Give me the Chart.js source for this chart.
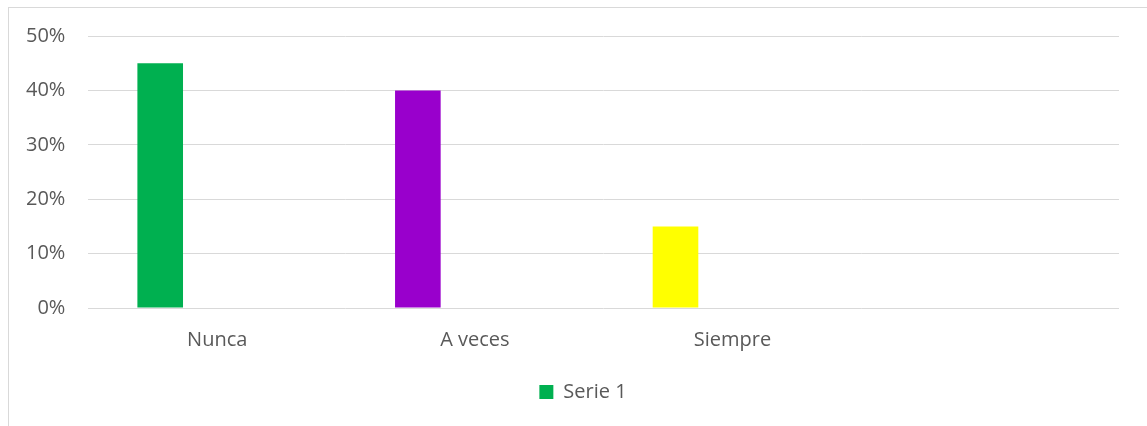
<!DOCTYPE html>
<html>
<head>
<meta charset="utf-8">
<script src="https://cdn.jsdelivr.net/npm/chart.js@4"></script>
<style>
	body { margin: 0; background: #ffffff; overflow: hidden; }
	#chart_box { position: relative; width: 1147px; height: 426px; }
	#chart_frame { position: absolute; left: 8px; top: 7px; width: 1200px; height: 500px; border: 1px solid #d9d9d9; pointer-events: none; }
</style>
</head>
<body>
<div id="chart_box">
	<canvas id="survey_chart" width="1147" height="426"></canvas>
	<div id="chart_frame"></div>
</div>
<script>
var category_labels = ['Nunca', 'A veces', 'Siempre', ''];
var serie1_values = [0.45, 0.40, 0.15, null];
var serie2_values = [null, null, null, null];
var serie3_values = [null, null, null, null];
var serie1_colors = ['#00b050', '#9900cc', '#ffff00', '#00b050'];
var y_ticks = [0, 0.1, 0.2, 0.3, 0.4, 0.5];

var text_color = '#595959';
var grid_color = '#d9d9d9';

Chart.defaults.font.family = "'Open Sans', sans-serif";
Chart.defaults.font.size = 20;
Chart.defaults.color = text_color;

//legend sits centred on the whole frame, not on the padded layout
var legend_shift = {
	id: 'legend_shift',
	afterLayout: function(chart) {
		if (chart.legend) {
			chart.legend.left += 22;
			chart.legend.right += 22;
		}
	}
};

var ctx = document.getElementById('survey_chart').getContext('2d');
var survey_chart = new Chart(ctx, {
	type: 'bar',
	data: {
		labels: category_labels,
		datasets: [
			{
				label: 'Serie 1',
				data: serie1_values,
				backgroundColor: function(c) {
					return c.type === 'data' ? serie1_colors[c.dataIndex] : serie1_colors[0];
				}
			},
			{ label: 'Serie 2', data: serie2_values, backgroundColor: '#ed7d31' },
			{ label: 'Serie 3', data: serie3_values, backgroundColor: '#a5a5a5' }
		]
	},
	plugins: [legend_shift],
	options: {
		responsive: false,
		animation: false,
		devicePixelRatio: 1,
		categoryPercentage: 0.664,
		barPercentage: 0.8,
		layout: {
			padding: { left: 3, right: 28, top: 36, bottom: 14 }
		},
		plugins: {
			tooltip: { enabled: false },
			legend: {
				position: 'bottom',
				labels: {
					boxWidth: 14,
					boxHeight: 14,
					padding: 10,
					filter: function(item) { return item.datasetIndex === 0; }
				}
			}
		},
		scales: {
			x: {
				grid: { display: false, drawTicks: false },
				border: { display: false },
				ticks: { padding: 20, maxRotation: 0 }
			},
			y: {
				min: 0,
				max: 0.5,
				afterBuildTicks: function(scale) {
					scale.ticks = y_ticks.map(function(v) { return { value: v }; });
				},
				ticks: {
					padding: 23,
					callback: function(v) { return Math.round(v * 100) + '%'; }
				},
				grid: { color: grid_color, lineWidth: 1, drawTicks: false },
				border: { display: false }
			}
		}
	}
});
</script>
</body>
</html>
